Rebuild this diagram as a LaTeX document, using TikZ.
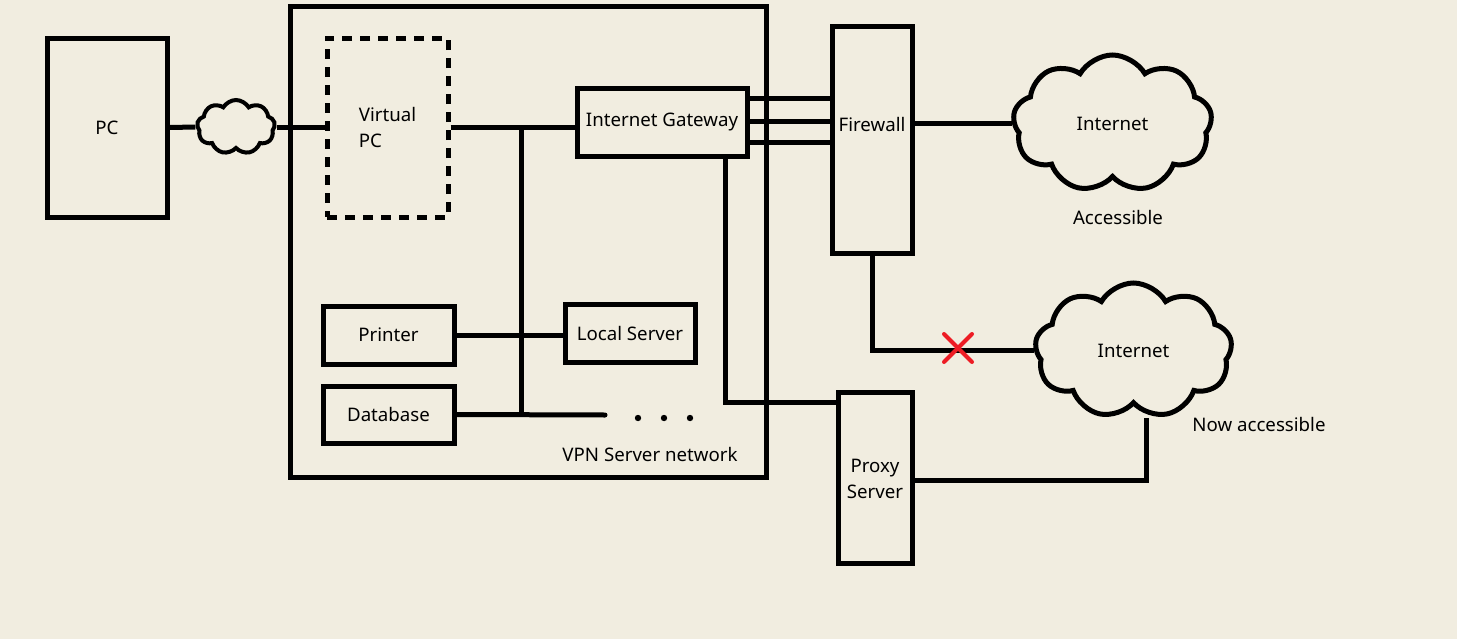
\documentclass[tikz,border=0pt]{standalone}
\usepackage{fontspec}
\setmainfont{Noto Sans}
\usetikzlibrary{shapes.symbols,calc}
\definecolor{bg}{RGB}{241,237,224}
\definecolor{xred}{RGB}{237,28,36}
\begin{document}
\begin{tikzpicture}[x=0.75pt,y=-0.75pt,line width=3.75pt,
  txt/.style={font=\fontsize{14}{19.5}\selectfont},
  box/.style={draw,rectangle,inner sep=0pt,txt},
  wire/.style={draw,line width=3.75pt},
  cl/.style={draw,cloud,cloud puffs=9,cloud puff arc=120,cloud ignores aspect,inner sep=0pt,line width=3.75pt,txt},
  lbl/.style={inner sep=0pt,txt}]
\fill[bg] (0,0) rectangle (1457,639);
\useasboundingbox (0,0) rectangle (1457,639);
% boxes
\node[box,minimum width=357pt,minimum height=353.25pt] (vpn) at (528,241.5) {};
\node[box,minimum width=90pt,minimum height=134.25pt] (pc) at (107,127.5) {PC};
\node[box,dash pattern=on 7.5pt off 6pt,minimum width=90.75pt,minimum height=134.25pt,align=left] (vpc) at (387.5,127.5) {Virtual\\PC};
\node[box,minimum width=127.5pt,minimum height=51pt] (gw) at (662,122) {Internet Gateway};
\node[box,minimum width=60pt,minimum height=170.25pt,label={[lbl,yshift=11.5pt]center:Firewall}] (fw) at (872,139.5) {};
\node[box,minimum width=55.5pt,minimum height=128.25pt,align=center,text depth=0pt] (proxy) at (875,477.5) {\raisebox{-2pt}{Proxy}\\\raisebox{-2pt}{Server}};
\node[box,minimum width=98.25pt,minimum height=43.5pt] (printer) at (388.5,335) {Printer};
\node[box,minimum width=97.5pt,minimum height=43.5pt] (ls) at (630,333) {Local Server};
\node[box,minimum width=98.25pt,minimum height=42.75pt] (db) at (388.5,414.5) {Database};
% clouds
\node[cl,line width=3pt,minimum width=58.5pt,minimum height=40.5pt] (sc) at (236,127) {};
\node[cl,minimum width=149.25pt,minimum height=102.75pt] (c1) at (1112.5,123.5) {Internet};
\node[cl,minimum width=147.75pt,minimum height=101.25pt] (c2) at (1133.5,350.5) {Internet};
% labels
\node[lbl] (acc) at (1118,217) {Accessible};
\node[lbl] (nacc) at (1259,424) {Now accessible};
\node[lbl] (vpnl) at (650,454) {VPN Server network};
% coordinates
\coordinate (bustop) at (521,128);
\coordinate (busbot) at (521,415);
\coordinate (dbend) at (605,415);
\coordinate (c2b) at (1146,418);
\coordinate (xc) at (958,348);
% connectors
\draw[wire] (pc.east) -- (sc.west);
\draw[wire] (sc.east) -- (sc.east -| vpc.west);
\draw[wire] (vpc.east) -- (vpc.east -| gw.west);
\draw[wire] (bustop) -- (busbot);
\draw[wire] (printer.east) -- (printer.east -| ls.west);
\draw[wire,line cap=round] (db.east) -- (dbend);
\draw[wire] ([yshift=18pt]gw.east) -- ([yshift=18pt]gw.east -| fw.west);
\draw[wire] ([yshift=0.75pt]gw.east) -- ([yshift=0.75pt]gw.east -| fw.west);
\draw[wire] ([yshift=-15pt]gw.east) -- ([yshift=-15pt]gw.east -| fw.west);
\draw[wire] (c1.west -| fw.east) -- (c1.west);
\draw[wire] (fw.south) |- (c2.west);
\draw[wire] ([xshift=47.25pt]gw.south) |- ([yshift=-9.75pt]proxy.north west);
\draw[wire] ([yshift=-2.6pt]proxy.east) -| (c2b);
% dots
\foreach \xx in {638,664,690} \fill (\xx,418) circle (3.2);
% red cross
\draw[xred,line width=3pt,line cap=round] ($(xc)+(-14,14)$) -- ($(xc)+(14,-14)$);
\draw[xred,line width=3pt,line cap=round] ($(xc)+(-14,-14)$) -- ($(xc)+(14,14)$);
\end{tikzpicture}
\end{document}
